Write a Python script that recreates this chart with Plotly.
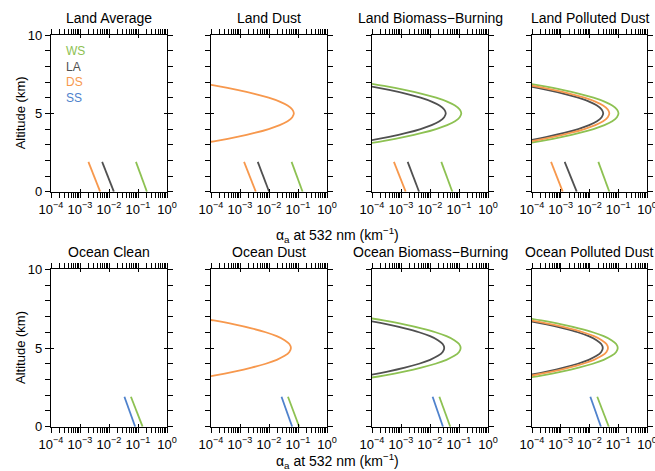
import plotly.graph_objects as go

W, H = 655, 471

# ---------------- data ----------------
TITLES = ["Land Average", "Land Dust", "Land Biomass\u2212Burning", "Land Polluted Dust",
          "Ocean Clean", "Ocean Dust", "Ocean Biomass\u2212Burning", "Ocean Polluted Dust"]

SEASONS = ["WS", "LA", "DS", "SS"]
COLORS = {"WS": "#8dc152", "LA": "#505050", "DS": "#f7984d", "SS": "#4f82cc"}

# altitude of boundary-layer segments (km)
Z_BL = [0.0, 1.9]
# altitude grid of elevated layers (km)
Z_EL = [3.0, 3.25, 3.5, 3.75, 4.0, 4.25, 4.5, 4.75, 5.0, 5.25, 5.5, 5.75, 6.0, 6.25, 6.5, 6.75, 7.0]

# boundary-layer extinction (km^-1) at Z_BL, per panel and season
BL = {
    0: {"WS": [0.203, 0.085], "LA": [0.0147, 0.0058], "DS": [0.00495, 0.00195]},
    1: {"WS": [0.144, 0.060], "LA": [0.0101, 0.0041], "DS": [0.0035, 0.00138]},
    2: {"WS": [0.059, 0.0245], "LA": [0.0042, 0.0017], "DS": [0.00145, 0.00057]},
    3: {"WS": [0.049, 0.0203], "LA": [0.0036, 0.00137], "DS": [0.00117, 0.00046]},
    4: {"WS": [0.144, 0.057], "SS": [0.080, 0.034]},
    5: {"WS": [0.110, 0.045], "SS": [0.063, 0.027]},
    6: {"WS": [0.050, 0.021], "SS": [0.028, 0.0123]},
    7: {"WS": [0.047, 0.0186], "SS": [0.025, 0.0107]},
}

# elevated-layer extinction (km^-1) at Z_EL
land_dust_DS = [2.42e-5, 1.575e-4, 8.0e-4, 3.161e-3, 9.742e-3, 2.338e-2, 4.367e-2, 6.354e-2, 7.2e-2,
                6.354e-2, 4.367e-2, 2.338e-2, 9.742e-3, 3.161e-3, 8.0e-4, 1.575e-4, 2.42e-5]
land_bb_LA = [1.18e-5, 7.65e-5, 3.89e-4, 1.537e-3, 4.736e-3, 1.136e-2, 2.123e-2, 3.089e-2, 3.5e-2,
              3.089e-2, 2.123e-2, 1.136e-2, 4.736e-3, 1.537e-3, 3.89e-4, 7.65e-5, 1.18e-5]
land_bb_WS = [4.03e-5, 2.624e-4, 1.333e-3, 5.268e-3, 1.624e-2, 3.896e-2, 7.278e-2, 1.059e-1, 1.2e-1,
              1.059e-1, 7.278e-2, 3.896e-2, 1.624e-2, 5.268e-3, 1.333e-3, 2.624e-4, 4.03e-5]
land_pd_LA = [1.01e-5, 6.56e-5, 3.33e-4, 1.317e-3, 4.06e-3, 9.74e-3, 1.82e-2, 2.648e-2, 3.0e-2,
              2.648e-2, 1.82e-2, 9.74e-3, 4.06e-3, 1.317e-3, 3.33e-4, 6.56e-5, 1.01e-5]
land_pd_DS = [1.65e-5, 1.072e-4, 5.44e-4, 2.151e-3, 6.63e-3, 1.591e-2, 2.972e-2, 4.324e-2, 4.9e-2,
              4.324e-2, 2.972e-2, 1.591e-2, 6.63e-3, 2.151e-3, 5.44e-4, 1.072e-4, 1.65e-5]
land_pd_WS = [3.43e-5, 2.23e-4, 1.133e-3, 4.478e-3, 1.38e-2, 3.312e-2, 6.186e-2, 9.002e-2, 1.02e-1,
              9.002e-2, 6.186e-2, 3.312e-2, 1.38e-2, 4.478e-3, 1.133e-3, 2.23e-4, 3.43e-5]
ocean_dust_DS = [1.91e-5, 1.247e-4, 6.33e-4, 2.502e-3, 7.712e-3, 1.851e-2, 3.457e-2, 5.03e-2, 5.7e-2,
                 5.03e-2, 3.457e-2, 1.851e-2, 7.712e-3, 2.502e-3, 6.33e-4, 1.247e-4, 1.91e-5]
ocean_bb_LA = [1.04e-5, 6.78e-5, 3.44e-4, 1.361e-3, 4.194e-3, 1.007e-2, 1.88e-2, 2.736e-2, 3.1e-2,
               2.736e-2, 1.88e-2, 1.007e-2, 4.194e-3, 1.361e-3, 3.44e-4, 6.78e-5, 1.04e-5]
ocean_bb_WS = [3.83e-5, 2.493e-4, 1.267e-3, 5.005e-3, 1.542e-2, 3.702e-2, 6.914e-2, 1.006e-1, 1.14e-1,
               1.006e-1, 6.914e-2, 3.702e-2, 1.542e-2, 5.005e-3, 1.267e-3, 2.493e-4, 3.83e-5]
ocean_pd_LA = [9.7e-6, 6.34e-5, 3.22e-4, 1.273e-3, 3.924e-3, 9.416e-3, 1.759e-2, 2.559e-2, 2.9e-2,
               2.559e-2, 1.759e-2, 9.416e-3, 3.924e-3, 1.273e-3, 3.22e-4, 6.34e-5, 9.7e-6]
ocean_pd_DS = [1.48e-5, 9.62e-5, 4.89e-4, 1.932e-3, 5.953e-3, 1.429e-2, 2.669e-2, 3.883e-2, 4.4e-2,
               3.883e-2, 2.669e-2, 1.429e-2, 5.953e-3, 1.932e-3, 4.89e-4, 9.62e-5, 1.48e-5]
ocean_pd_WS = [3.22e-5, 2.1e-4, 1.067e-3, 4.214e-3, 1.299e-2, 3.117e-2, 5.822e-2, 8.472e-2, 9.6e-2,
               8.472e-2, 5.822e-2, 3.117e-2, 1.299e-2, 4.214e-3, 1.067e-3, 2.1e-4, 3.22e-5]

EL = {
    1: {"DS": land_dust_DS},
    2: {"WS": land_bb_WS, "LA": land_bb_LA},
    3: {"WS": land_pd_WS, "DS": land_pd_DS, "LA": land_pd_LA},
    5: {"DS": ocean_dust_DS},
    6: {"WS": ocean_bb_WS, "LA": ocean_bb_LA},
    7: {"WS": ocean_pd_WS, "DS": ocean_pd_DS, "LA": ocean_pd_LA},
}

X_TICKVALS = [1e-4, 1e-3, 1e-2, 1e-1, 1e0]
X_TICKTEXT = ["10<sup>\u22124</sup>", "10<sup>\u22123</sup>", "10<sup>\u22122</sup>",
              "10<sup>\u22121</sup>", "10<sup>0</sup>"]
Y_TICKVALS = [0, 5, 10]

# ---------------- layout geometry (page pixels) ----------------
COL_X = [(51, 167), (211, 327), (372, 488), (532, 647)]
ROW_Y = [(35, 191.7), (269.3, 426.7)]

def px(x):
    return x / W

def py(y):
    return 1 - y / H

FONT = "Liberation Sans, Arial, sans-serif"
fig = go.Figure()

minor_x = [m * 10 ** e for e in range(-4, 0) for m in range(2, 10)]

for i in range(8):
    r, c = divmod(i, 4)
    n = i + 1
    xa = "x" if n == 1 else f"x{n}"
    ya = "y" if n == 1 else f"y{n}"
    xk = "xaxis" if n == 1 else f"xaxis{n}"
    yk = "yaxis" if n == 1 else f"yaxis{n}"
    # overlay axes carrying the inward half of the major ticks
    no = n + 8
    xo, yo = f"x{no}", f"y{no}"

    for s in SEASONS:
        if s in EL.get(i, {}):
            fig.add_trace(go.Scatter(x=EL[i][s], y=Z_EL, mode="lines", line_shape="spline",
                                     line=dict(color=COLORS[s], width=1.8), xaxis=xa, yaxis=ya,
                                     showlegend=False, hoverinfo="skip"))
    for s in SEASONS:
        if s in BL[i]:
            fig.add_trace(go.Scatter(x=BL[i][s], y=Z_BL, mode="lines",
                                     line=dict(color=COLORS[s], width=1.8), xaxis=xa, yaxis=ya,
                                     showlegend=False, hoverinfo="skip"))
    fig.add_trace(go.Scatter(x=[None], y=[None], xaxis=xo, yaxis=ya, showlegend=False, hoverinfo="skip"))
    fig.add_trace(go.Scatter(x=[None], y=[None], xaxis=xa, yaxis=yo, showlegend=False, hoverinfo="skip"))

    x0, x1 = COL_X[c]
    y0, y1 = ROW_Y[r]
    fig.layout[xk] = dict(
        type="log", range=[-4, 0], domain=[px(x0), px(x1)], anchor=ya, automargin=False,
        tickvals=X_TICKVALS, ticktext=X_TICKTEXT, ticks="outside", ticklen=5, tickwidth=1.2,
        ticklabeloverflow="allow",
        minor=dict(tickvals=minor_x, ticks="outside", ticklen=3, tickwidth=1, tickcolor="black"),
        showline=True, linecolor="black", linewidth=1.4, mirror="allticks",
        showgrid=False, zeroline=False, tickcolor="black",
        tickfont=dict(family=FONT, size=13, color="black"),
    )
    fig.layout[yk] = dict(
        range=[0, 10], domain=[py(y1), py(y0)], anchor=xa, automargin=False,
        tickvals=Y_TICKVALS, ticks="outside", ticklen=5, tickwidth=1.2,
        minor=dict(dtick=1, ticks="outside", ticklen=3, tickwidth=1, tickcolor="black"),
        showline=True, linecolor="black", linewidth=1.4, mirror="allticks",
        showgrid=False, zeroline=False, tickcolor="black", showticklabels=(c == 0),
        tickfont=dict(family=FONT, size=13, color="black"),
    )
    fig.layout[f"xaxis{no}"] = dict(
        type="log", range=[-4, 0], domain=[px(x0), px(x1)], anchor=ya, overlaying=xa,
        automargin=False, tickvals=X_TICKVALS, ticks="inside", ticklen=3, tickwidth=1.2,
        tickcolor="black", showticklabels=False, showline=False, mirror="allticks",
        showgrid=False, zeroline=False,
    )
    fig.layout[f"yaxis{no}"] = dict(
        range=[0, 10], domain=[py(y1), py(y0)], anchor=xa, overlaying=ya,
        automargin=False, tickvals=Y_TICKVALS, ticks="inside", ticklen=3, tickwidth=1.2,
        tickcolor="black", showticklabels=False, showline=False, mirror="allticks",
        showgrid=False, zeroline=False,
    )

    fig.add_annotation(text=TITLES[i], x=px((x0 + x1) / 2), y=py(y0 - 7), xref="paper", yref="paper",
                       xanchor="center", yanchor="bottom", showarrow=False,
                       font=dict(family=FONT, size=14, color="black"))

# y-axis titles
for r in range(2):
    y0, y1 = ROW_Y[r]
    fig.add_annotation(text="Altitude (km)", x=px(20), y=py((y0 + y1) / 2), xref="paper", yref="paper",
                       xanchor="center", yanchor="middle", textangle=-90, showarrow=False,
                       font=dict(family=FONT, size=13, color="black"))

# x-axis titles
for yy in [235, 461]:
    fig.add_annotation(text="\u03b1<sub>a</sub> at 532 nm (km<sup>\u22121</sup>)", x=px(338), y=py(yy),
                       xref="paper", yref="paper", xanchor="center", yanchor="middle", showarrow=False,
                       font=dict(family=FONT, size=14, color="black"))

# season legend text
for k, s in enumerate(SEASONS):
    fig.add_annotation(text=s, x=px(64), y=py(51 + k * 15.7), xref="paper", yref="paper",
                       xanchor="left", yanchor="middle", showarrow=False,
                       font=dict(family=FONT, size=12, color=COLORS[s]))

fig.update_layout(width=W, height=H, margin=dict(l=0, r=0, t=0, b=0, autoexpand=False),
                  paper_bgcolor="white", plot_bgcolor="white", showlegend=False,
                  font=dict(family=FONT, color="black"))

fig.write_html("out.html", config={"displayModeBar": False},
               post_script="document.body.style.margin='0';document.body.style.overflow='hidden';")
